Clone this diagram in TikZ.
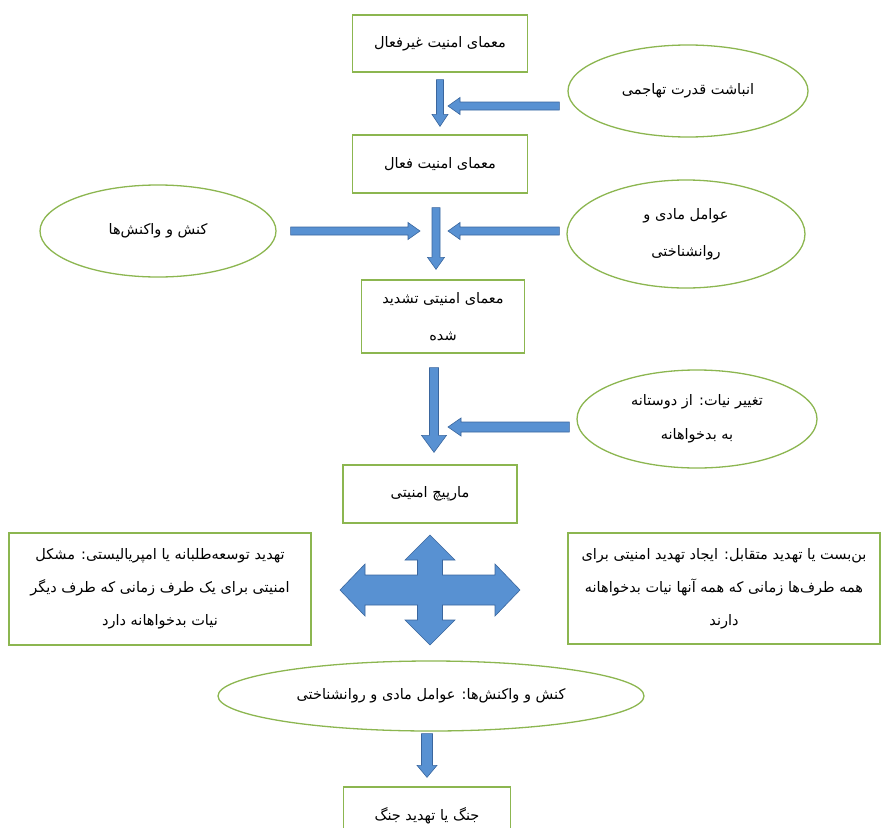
\documentclass[tikz,border=0pt]{standalone}
\usepackage{fontspec}
\newfontfamily\fafont[Script=Arabic]{DejaVu Sans}
\TeXXeTstate=1
\usetikzlibrary{shapes.geometric,calc}

\definecolor{rahmengruen}{RGB}{140,182,80}
\definecolor{pfeilblau}{RGB}{88,145,210}
\definecolor{pfeilrand}{RGB}{58,102,158}

\newcommand{\fa}[1]{\beginR #1\endR}

\tikzset{
  pfeilmass/.code n args={3}{\def\baw{#1}\def\bah{#2}\def\bal{#3}},
  blockpfeil/.style={fill=pfeilblau, draw=pfeilrand, line width=0.6pt, line join=miter,
    to path={let \p1=(\tikztostart), \p2=(\tikztotarget), \n1={atan2(\y2-\y1,\x2-\x1)} in
      ($(\p1)+({\n1+90}:\baw)$) -- ($(\p2)!\bal!(\p1)+({\n1+90}:\baw)$)
      -- ($(\p2)!\bal!(\p1)+({\n1+90}:\bah)$) -- (\p2)
      -- ($(\p2)!\bal!(\p1)+({\n1-90}:\bah)$) -- ($(\p2)!\bal!(\p1)+({\n1-90}:\baw)$)
      -- ($(\p1)+({\n1-90}:\baw)$) -- cycle}},
  kasten/.style={draw=rahmengruen, line width=1.3pt, fill=white, align=center, inner sep=2pt,
    font=\fafont\fontsize{14.5}{33}\selectfont},
  oval/.style={ellipse, draw=rahmengruen, line width=1.3pt, fill=white, align=center, inner sep=0pt,
    font=\fafont\fontsize{14.5}{34}\selectfont}
}

\begin{document}
\begin{tikzpicture}[x=1pt,y=-1pt,pfeilmass={4pt}{8.5pt}{12pt}]
  \useasboundingbox (0,0) rectangle (883,827);
  \clip (0,0) rectangle (883,827);

  % Kaesten der Mittelspalte
  \node[kasten, minimum width=175pt, minimum height=57pt] (inaktiv) at (440,43.5) {\fa{معمای امنیت غیرفعال}};
  \node[kasten, minimum width=175pt, minimum height=58pt] (aktiv) at (440,164) {\fa{معمای امنیت فعال}};
  \node[kasten, minimum width=163pt, minimum height=73pt, font=\fafont\fontsize{14.5}{37}\selectfont] (verschaerft) at (443,316.5) {\fa{معمای امنیتی تشدید}\\\fa{شده}};
  \node[kasten, minimum width=174pt, minimum height=58pt] (spirale) at (430,494) {\fa{مارپیچ امنیتی}};
  \node[kasten, minimum width=167pt, minimum height=58pt] (krieg) at (427,816) {\fa{جنگ یا تهدید جنگ}};

  % Kaesten links und rechts
  \node[kasten, minimum width=302pt, minimum height=112pt] (imperial) at (160,589)
    {\fa{تهدید توسعه‌طلبانه یا امپریالیستی: مشکل}\\\fa{امنیتی برای یک طرف زمانی که طرف دیگر}\\\fa{نیات بدخواهانه دارد}};
  \node[kasten, minimum width=312pt, minimum height=111pt] (sackgasse) at (724,588.5)
    {\fa{بن‌بست یا تهدید متقابل: ایجاد تهدید امنیتی برای}\\\fa{همه طرف‌ها زمانی که همه آنها نیات بدخواهانه}\\\fa{دارند}};

  % Ellipsen
  \node[oval, minimum width=240pt, minimum height=92pt] (angriff) at (688,91) {\fa{انباشت قدرت تهاجمی}};
  \node[oval, minimum width=236pt, minimum height=92pt] (aktion) at (158,231) {\fa{کنش و واکنش‌ها}};
  \node[oval, minimum width=238pt, minimum height=108pt, font=\fafont\fontsize{14.5}{37}\selectfont] (faktoren) at (686,234) {\fa{عوامل مادی و}\\\fa{روانشناختی}};
  \node[oval, minimum width=240pt, minimum height=98pt] (wandel) at (697,419) {\fa{تغییر نیات: از دوستانه}\\\fa{به بدخواهانه}};
  \node[oval, minimum width=426pt, minimum height=70pt] (reaktion) at (431,696) {\fa{کنش و واکنش‌ها: عوامل مادی و روانشناختی}};

  % Zielpunkte der waagerechten Pfeile
  \coordinate (ziel1) at (448,106);
  \coordinate (ziel2) at (420,231);
  \coordinate (ziel3) at (448,231);
  \coordinate (ziel4) at (448,427);
  \coordinate (kreuz) at (430,590);

  % senkrechte Pfeile
  \draw[blockpfeil, pfeilmass={3.5pt}{8pt}{12pt}] ([yshift=-7pt]inaktiv.south) to ([yshift=8pt]aktiv.north);
  \draw[blockpfeil] ([xshift=-4pt,yshift=-14pt]aktiv.south) to ([xshift=-7pt,yshift=10pt]verschaerft.north);
  \draw[blockpfeil, pfeilmass={4.5pt}{12.5pt}{17pt}] ([xshift=-9pt,yshift=-14pt]verschaerft.south) to ([xshift=4pt,yshift=12pt]spirale.north);
  \draw[blockpfeil, pfeilmass={5.5pt}{10pt}{12pt}] ([xshift=-4pt,yshift=-2pt]reaktion.south) to ([yshift=9pt]krieg.north);

  % waagerechte Pfeile
  \draw[blockpfeil] ([xshift=-8pt,yshift=-15pt]angriff.west) to (ziel1);
  \draw[blockpfeil] ([xshift=14pt]aktion.east) to (ziel2);
  \draw[blockpfeil] ([xshift=-7pt,yshift=3pt]faktoren.west) to (ziel3);
  \draw[blockpfeil, pfeilmass={5pt}{9pt}{13pt}] ([xshift=-7pt,yshift=-8pt]wandel.west) to (ziel4);

  % Kreuzpfeil
  \draw[fill=pfeilblau, draw=pfeilrand, line width=0.6pt, shift={(kreuz)}]
    (90,0) -- (65,-26) -- (65,-15) -- (12.5,-15) -- (12.5,-30) -- (25,-30) -- (0,-55)
    -- (-25,-30) -- (-12.5,-30) -- (-12.5,-15) -- (-65,-15) -- (-65,-26) -- (-90,0)
    -- (-65,26) -- (-65,15) -- (-12.5,15) -- (-12.5,30) -- (-25,30) -- (0,55)
    -- (25,30) -- (12.5,30) -- (12.5,15) -- (65,15) -- (65,26) -- cycle;
\end{tikzpicture}
\end{document}
